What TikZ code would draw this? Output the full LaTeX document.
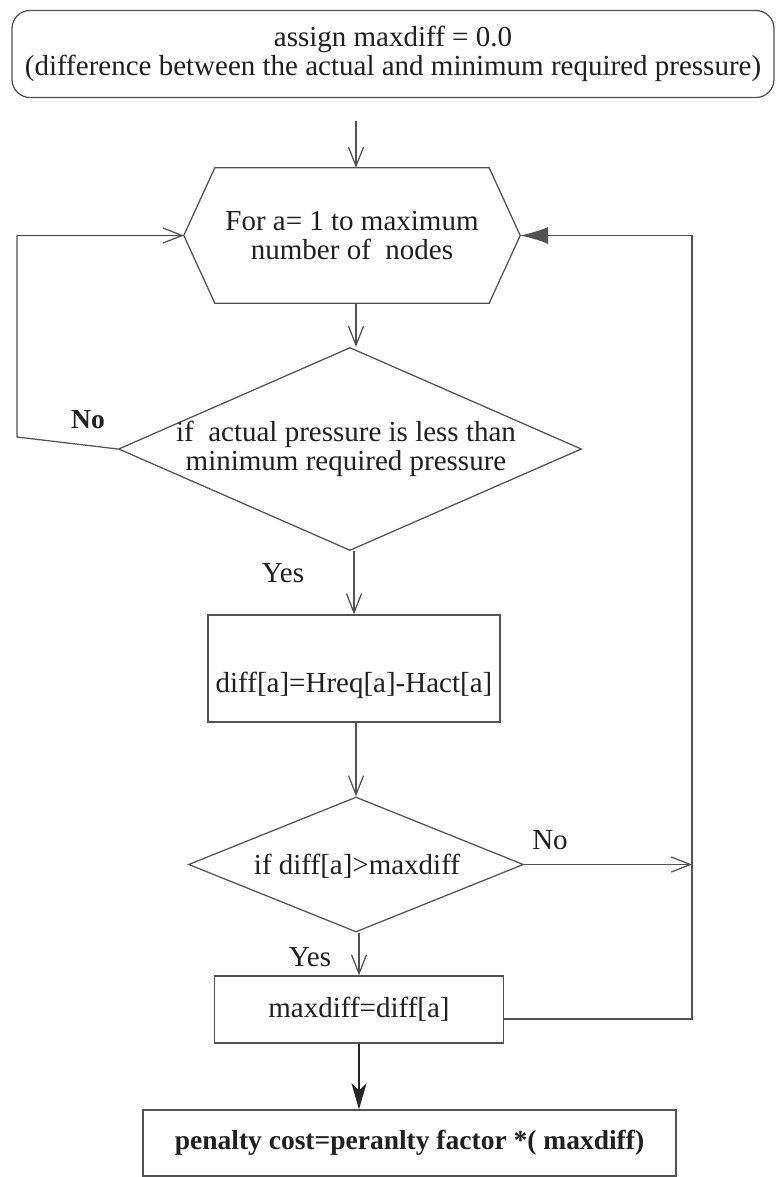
\documentclass[tikz,border=0pt]{standalone}
\usepackage{fontspec}
\setmainfont{Liberation Serif}
\usetikzlibrary{arrows.meta,shapes.geometric,calc}
\begin{document}
\begin{tikzpicture}[x=1pt,y=1pt,
  line/.style={draw=black!68, line width=1.25pt},
  open/.style={line, -{Straight Barb[length=19pt,width=15pt]}},
  box/.style={line, rectangle, inner sep=0pt},
  dia/.style={line, diamond, inner sep=0pt},
  txt/.style={font=\fontsize{29}{29}\selectfont, text=black!88, align=center, inner sep=0pt},
  btxt/.style={txt, font=\fontsize{27.5}{29}\selectfont\bfseries},
]
\useasboundingbox (0,0) rectangle (776,-1177);
\fill[white] (0,0) rectangle (776,-1177);

% initialisation
\node[box, txt, rounded corners=18pt, minimum width=762, minimum height=87] (start) at (393,-54)
  {assign maxdiff = 0.0\\(difference between the actual and minimum required pressure)};

% loop header (hexagon)
\node[txt, minimum width=274, minimum height=135] (hex) at (352,-235.5)
  {For a= 1 to maximum\\number of\ \ nodes};
\coordinate (hexL) at ($(hex.west)+(-31,0)$);
\coordinate (hexR) at ($(hex.east)+(31,0)$);
\draw[line] (hex.north west) -- (hex.north east) -- (hexR) -- (hex.south east)
  -- (hex.south west) -- (hexL) -- cycle;

% pressure test
\node[dia, minimum width=463, minimum height=203] (d1) at (350,-449) {};
\node[txt] (d1t) at (346,-449) {if\ \ actual pressure is less than\\minimum required pressure};

% difference
\node[box, minimum width=292, minimum height=107] (r1) at (354,-668.5) {};
\node[txt] (r1t) at (354,-685) {diff[a]=Hreq[a]-Hact[a]};

% maximum test
\node[dia, minimum width=335, minimum height=135] (d2) at (356,-864.5) {};
\node[txt] (d2t) at (357,-866) {if diff[a]>maxdiff};

% update
\node[box, txt, minimum width=289, minimum height=67] (r2) at (359,-1009.5) {maxdiff=diff[a]};

% result
\node[box, btxt, minimum width=533, minimum height=66] (pen) at (409.5,-1143)
  {penalty cost=peranlty factor *( maxdiff)};

% labels
\node[btxt] (no1) at (88,-420) {No};
\node[txt] (yes1) at (283,-573) {Yes};
\node[txt] (no2) at (550,-840) {No};
\node[txt] (yes2) at (310,-957) {Yes};

% main flow
\coordinate (a0) at (356,-121);
\draw[open] (a0) -- (a0 |- hex.north);
\draw[open] (a0 |- hex.south) -- (a0 |- d1.north);
\draw[open] (d1.south -| r1.north) -- (r1.north);
\draw[open] (r1.south -| d2.north) -- (d2.north);
\draw[open] (d2.south -| r2.north) -- (r2.north);
\draw[line, draw=black!85, line width=2pt, -{Stealth[length=26pt,width=15pt,inset=7pt]}]
  (r2.south) -- (r2.south |- pen.north);

% "No" branch of the pressure test returns to the loop header
\coordinate (lb) at (17,-437);
\draw[open] (d1.west) -- (lb) -- (lb |- hexL) -- (hexL);

% "No" branch of the maximum test joins the return line
\coordinate (rj) at (692,-862);
\draw[open] (d2.east) -- (rj |- d2.east);

% return line from the update back to the loop header
\coordinate (rr) at (692,-1019);
\draw[line, -{Latex[length=28pt,width=17pt]}]
  (r2.east |- rr) -- (rr) -- (rr |- hexR) -- (hexR);
\end{tikzpicture}
\end{document}
